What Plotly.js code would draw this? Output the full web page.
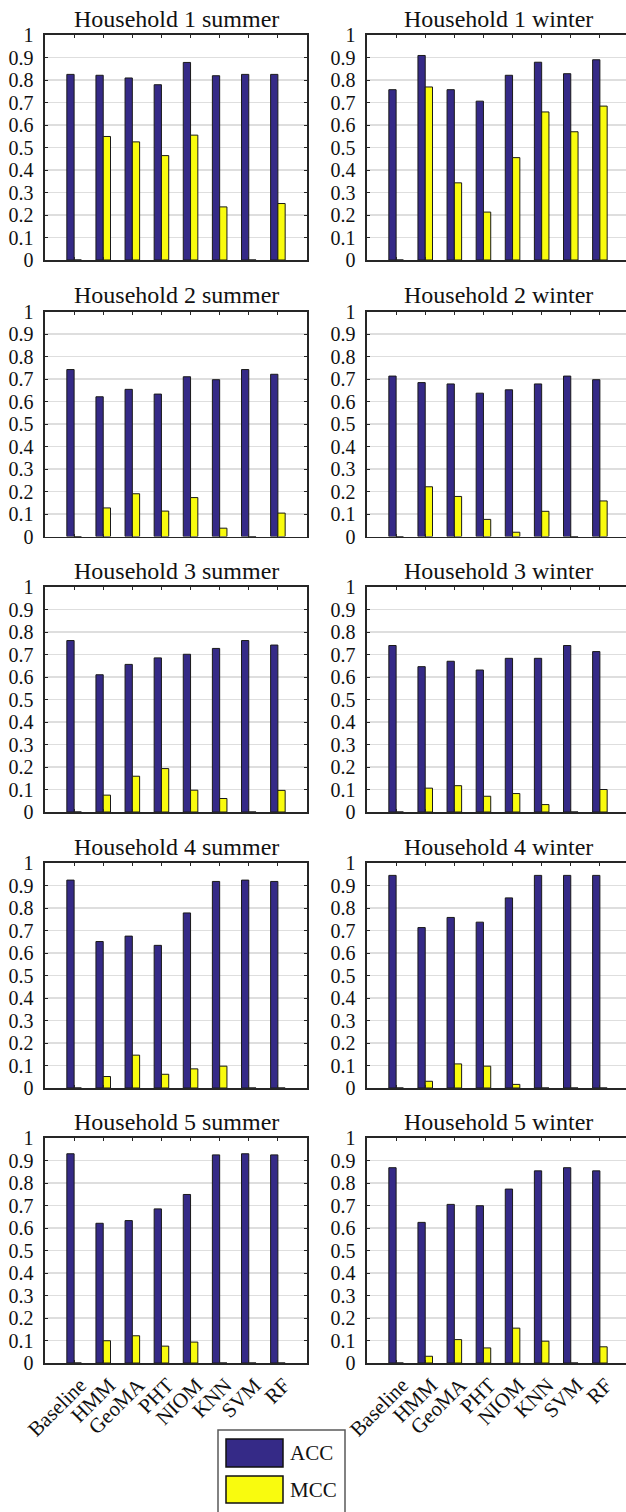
<!DOCTYPE html>
<html>
<head>
<meta charset="utf-8">
<script src="https://cdn.plot.ly/plotly-3.0.1.min.js"></script>
<style>
  html, body { margin: 0; padding: 0; overflow: hidden; background: #fff; }
  #chart { width: 632px; height: 1512px; }
  #chart svg text { font-family: "Liberation Serif", "DejaVu Serif", serif !important; }
</style>
</head>
<body>
<div id="chart"></div>
<script>
// ---- data ----
const categories = ["Baseline", "HMM", "GeoMA", "PHT", "NIOM", "KNN", "SVM", "RF"];
const seriesNames = ["ACC", "MCC"];
const panelTitles = [
  "Household 1 summer", "Household 1 winter",
  "Household 2 summer", "Household 2 winter",
  "Household 3 summer", "Household 3 winter",
  "Household 4 summer", "Household 4 winter",
  "Household 5 summer", "Household 5 winter"
];
const acc_h1_summer = [0.825, 0.821, 0.809, 0.779, 0.878, 0.819, 0.825, 0.825];
const mcc_h1_summer = [0.0, 0.549, 0.525, 0.464, 0.555, 0.236, 0.0, 0.251];
const acc_h1_winter = [0.757, 0.909, 0.757, 0.706, 0.821, 0.879, 0.828, 0.890];
const mcc_h1_winter = [0.0, 0.769, 0.343, 0.213, 0.455, 0.658, 0.570, 0.684];
const acc_h2_summer = [0.742, 0.621, 0.654, 0.633, 0.710, 0.697, 0.742, 0.721];
const mcc_h2_summer = [0.0, 0.127, 0.190, 0.113, 0.173, 0.037, 0.0, 0.104];
const acc_h2_winter = [0.713, 0.684, 0.678, 0.637, 0.652, 0.678, 0.713, 0.697];
const mcc_h2_winter = [0.0, 0.221, 0.178, 0.076, 0.019, 0.112, 0.0, 0.158];
const acc_h3_summer = [0.762, 0.610, 0.656, 0.685, 0.701, 0.727, 0.762, 0.742];
const mcc_h3_summer = [0.0, 0.075, 0.159, 0.193, 0.097, 0.060, 0.0, 0.096];
const acc_h3_winter = [0.740, 0.646, 0.670, 0.631, 0.683, 0.683, 0.740, 0.713];
const mcc_h3_winter = [0.0, 0.106, 0.117, 0.070, 0.082, 0.033, 0.0, 0.100];
const acc_h4_summer = [0.924, 0.651, 0.675, 0.634, 0.778, 0.918, 0.924, 0.918];
const mcc_h4_summer = [0.0, 0.051, 0.146, 0.061, 0.085, 0.097, 0.0, 0.0];
const acc_h4_winter = [0.945, 0.713, 0.758, 0.737, 0.845, 0.945, 0.945, 0.945];
const mcc_h4_winter = [0.0, 0.030, 0.107, 0.097, 0.016, 0.0, 0.0, 0.0];
const acc_h5_summer = [0.930, 0.621, 0.633, 0.685, 0.749, 0.925, 0.930, 0.925];
const mcc_h5_summer = [0.0, 0.099, 0.121, 0.075, 0.093, 0.0, 0.0, 0.0];
const acc_h5_winter = [0.868, 0.625, 0.705, 0.699, 0.773, 0.854, 0.868, 0.854];
const mcc_h5_winter = [0.0, 0.030, 0.104, 0.067, 0.155, 0.097, 0.0, 0.072];
const yTickVals = [0, 0.1, 0.2, 0.3, 0.4, 0.5, 0.6, 0.7, 0.8, 0.9, 1];
const yTickText = ["0", "0.1", "0.2", "0.3", "0.4", "0.5", "0.6", "0.7", "0.8", "0.9", "1"];

const accSeries = [acc_h1_summer, acc_h1_winter, acc_h2_summer, acc_h2_winter, acc_h3_summer,
                   acc_h3_winter, acc_h4_summer, acc_h4_winter, acc_h5_summer, acc_h5_winter];
const mccSeries = [mcc_h1_summer, mcc_h1_winter, mcc_h2_summer, mcc_h2_winter, mcc_h3_summer,
                   mcc_h3_winter, mcc_h4_summer, mcc_h4_winter, mcc_h5_summer, mcc_h5_winter];

// ---- layout geometry (pixels) ----
const W = 632, H = 1512;
const colX = [[45, 307], [367, 629]];
const rowTop = [35, 311.5, 587, 863, 1138];
const panelH = 225;
const FONT = "Liberation Serif";
const accColor = "#352a87", mccColor = "#f9fb0e";
const xpos = categories.map((_, i) => i + 1);

const traces = [];
const layout = {
  width: W, height: H,
  margin: {l: 0, r: 0, t: 0, b: 0},
  paper_bgcolor: "#ffffff", plot_bgcolor: "#ffffff",
  showlegend: false,
  barmode: "group", bargap: 0.5, bargroupgap: 0,
  font: {family: FONT, size: 20, color: "#262626"},
  annotations: [], shapes: []
};

for (let i = 0; i < 10; i++) {
  const r = Math.floor(i / 2), c = i % 2;
  const sfx = i === 0 ? "" : String(i + 1);
  const xa = "x" + sfx, ya = "y" + sfx;
  traces.push({
    type: "bar", x: xpos, y: accSeries[i], name: seriesNames[0], xaxis: xa, yaxis: ya,
    marker: {color: accColor, line: {color: "#1a1a1a", width: 1}}, hoverinfo: "y"
  });
  traces.push({
    type: "bar", x: xpos, y: mccSeries[i], name: seriesNames[1], xaxis: xa, yaxis: ya,
    marker: {color: mccColor, line: {color: "#1a1a1a", width: 1}}, hoverinfo: "y"
  });
  const top = rowTop[r], bot = top + panelH;
  layout["xaxis" + sfx] = {
    domain: [colX[c][0] / W, colX[c][1] / W],
    anchor: ya, range: [0, 9], fixedrange: true,
    tickmode: "array", tickvals: xpos, ticktext: categories,
    showticklabels: r === 4, tickangle: -45,
    tickfont: {family: FONT, size: 21, color: "#111"},
    ticklabelshift: 6,
    ticks: "inside", ticklen: 3, tickwidth: 1, tickcolor: "#262626",
    showline: true, linecolor: "#262626", linewidth: 1.6, mirror: "ticks",
    showgrid: false, zeroline: false
  };
  layout["yaxis" + sfx] = {
    domain: [1 - bot / H, 1 - top / H],
    anchor: xa, range: [0, 1], fixedrange: true,
    tickmode: "array", tickvals: yTickVals, ticktext: yTickText,
    tickfont: {family: FONT, size: 20, color: "#111"},
    ticks: "inside", ticklen: 3, tickwidth: 1, tickcolor: "#262626",
    ticklabelstandoff: 6,
    showline: true, linecolor: "#262626", linewidth: 1.6, mirror: "ticks",
    showgrid: true, gridcolor: "#dedede", gridwidth: 1.5, zeroline: false
  };
  layout.annotations.push({
    xref: "paper", yref: "paper",
    x: (colX[c][0] + colX[c][1]) / 2 / W, y: 1 - (top - 16) / H,
    xanchor: "center", yanchor: "middle", showarrow: false,
    text: panelTitles[i], font: {family: FONT, size: 24, color: "#111"}
  });
}

// ---- legend (drawn box) ----
const px = v => v / W, py = v => 1 - v / H;
layout.shapes.push({type: "rect", xref: "paper", yref: "paper",
  x0: px(218), x1: px(345), y0: py(1530), y1: py(1430),
  line: {color: "#5a5a5a", width: 1.5}, fillcolor: "#ffffff", layer: "above"});
layout.shapes.push({type: "rect", xref: "paper", yref: "paper",
  x0: px(226), x1: px(283), y0: py(1467), y1: py(1439),
  line: {color: "#111", width: 1.5}, fillcolor: accColor, layer: "above"});
layout.shapes.push({type: "rect", xref: "paper", yref: "paper",
  x0: px(226), x1: px(283), y0: py(1503), y1: py(1476),
  line: {color: "#111", width: 1.5}, fillcolor: mccColor, layer: "above"});
layout.annotations.push({xref: "paper", yref: "paper", x: px(288), y: py(1453),
  xanchor: "left", yanchor: "middle", showarrow: false, text: seriesNames[0],
  font: {family: FONT, size: 21, color: "#111"}});
layout.annotations.push({xref: "paper", yref: "paper", x: px(288), y: py(1490),
  xanchor: "left", yanchor: "middle", showarrow: false, text: seriesNames[1],
  font: {family: FONT, size: 21, color: "#111"}});

Plotly.newPlot("chart", traces, layout, {displayModeBar: false, staticPlot: true});
</script>
</body>
</html>
